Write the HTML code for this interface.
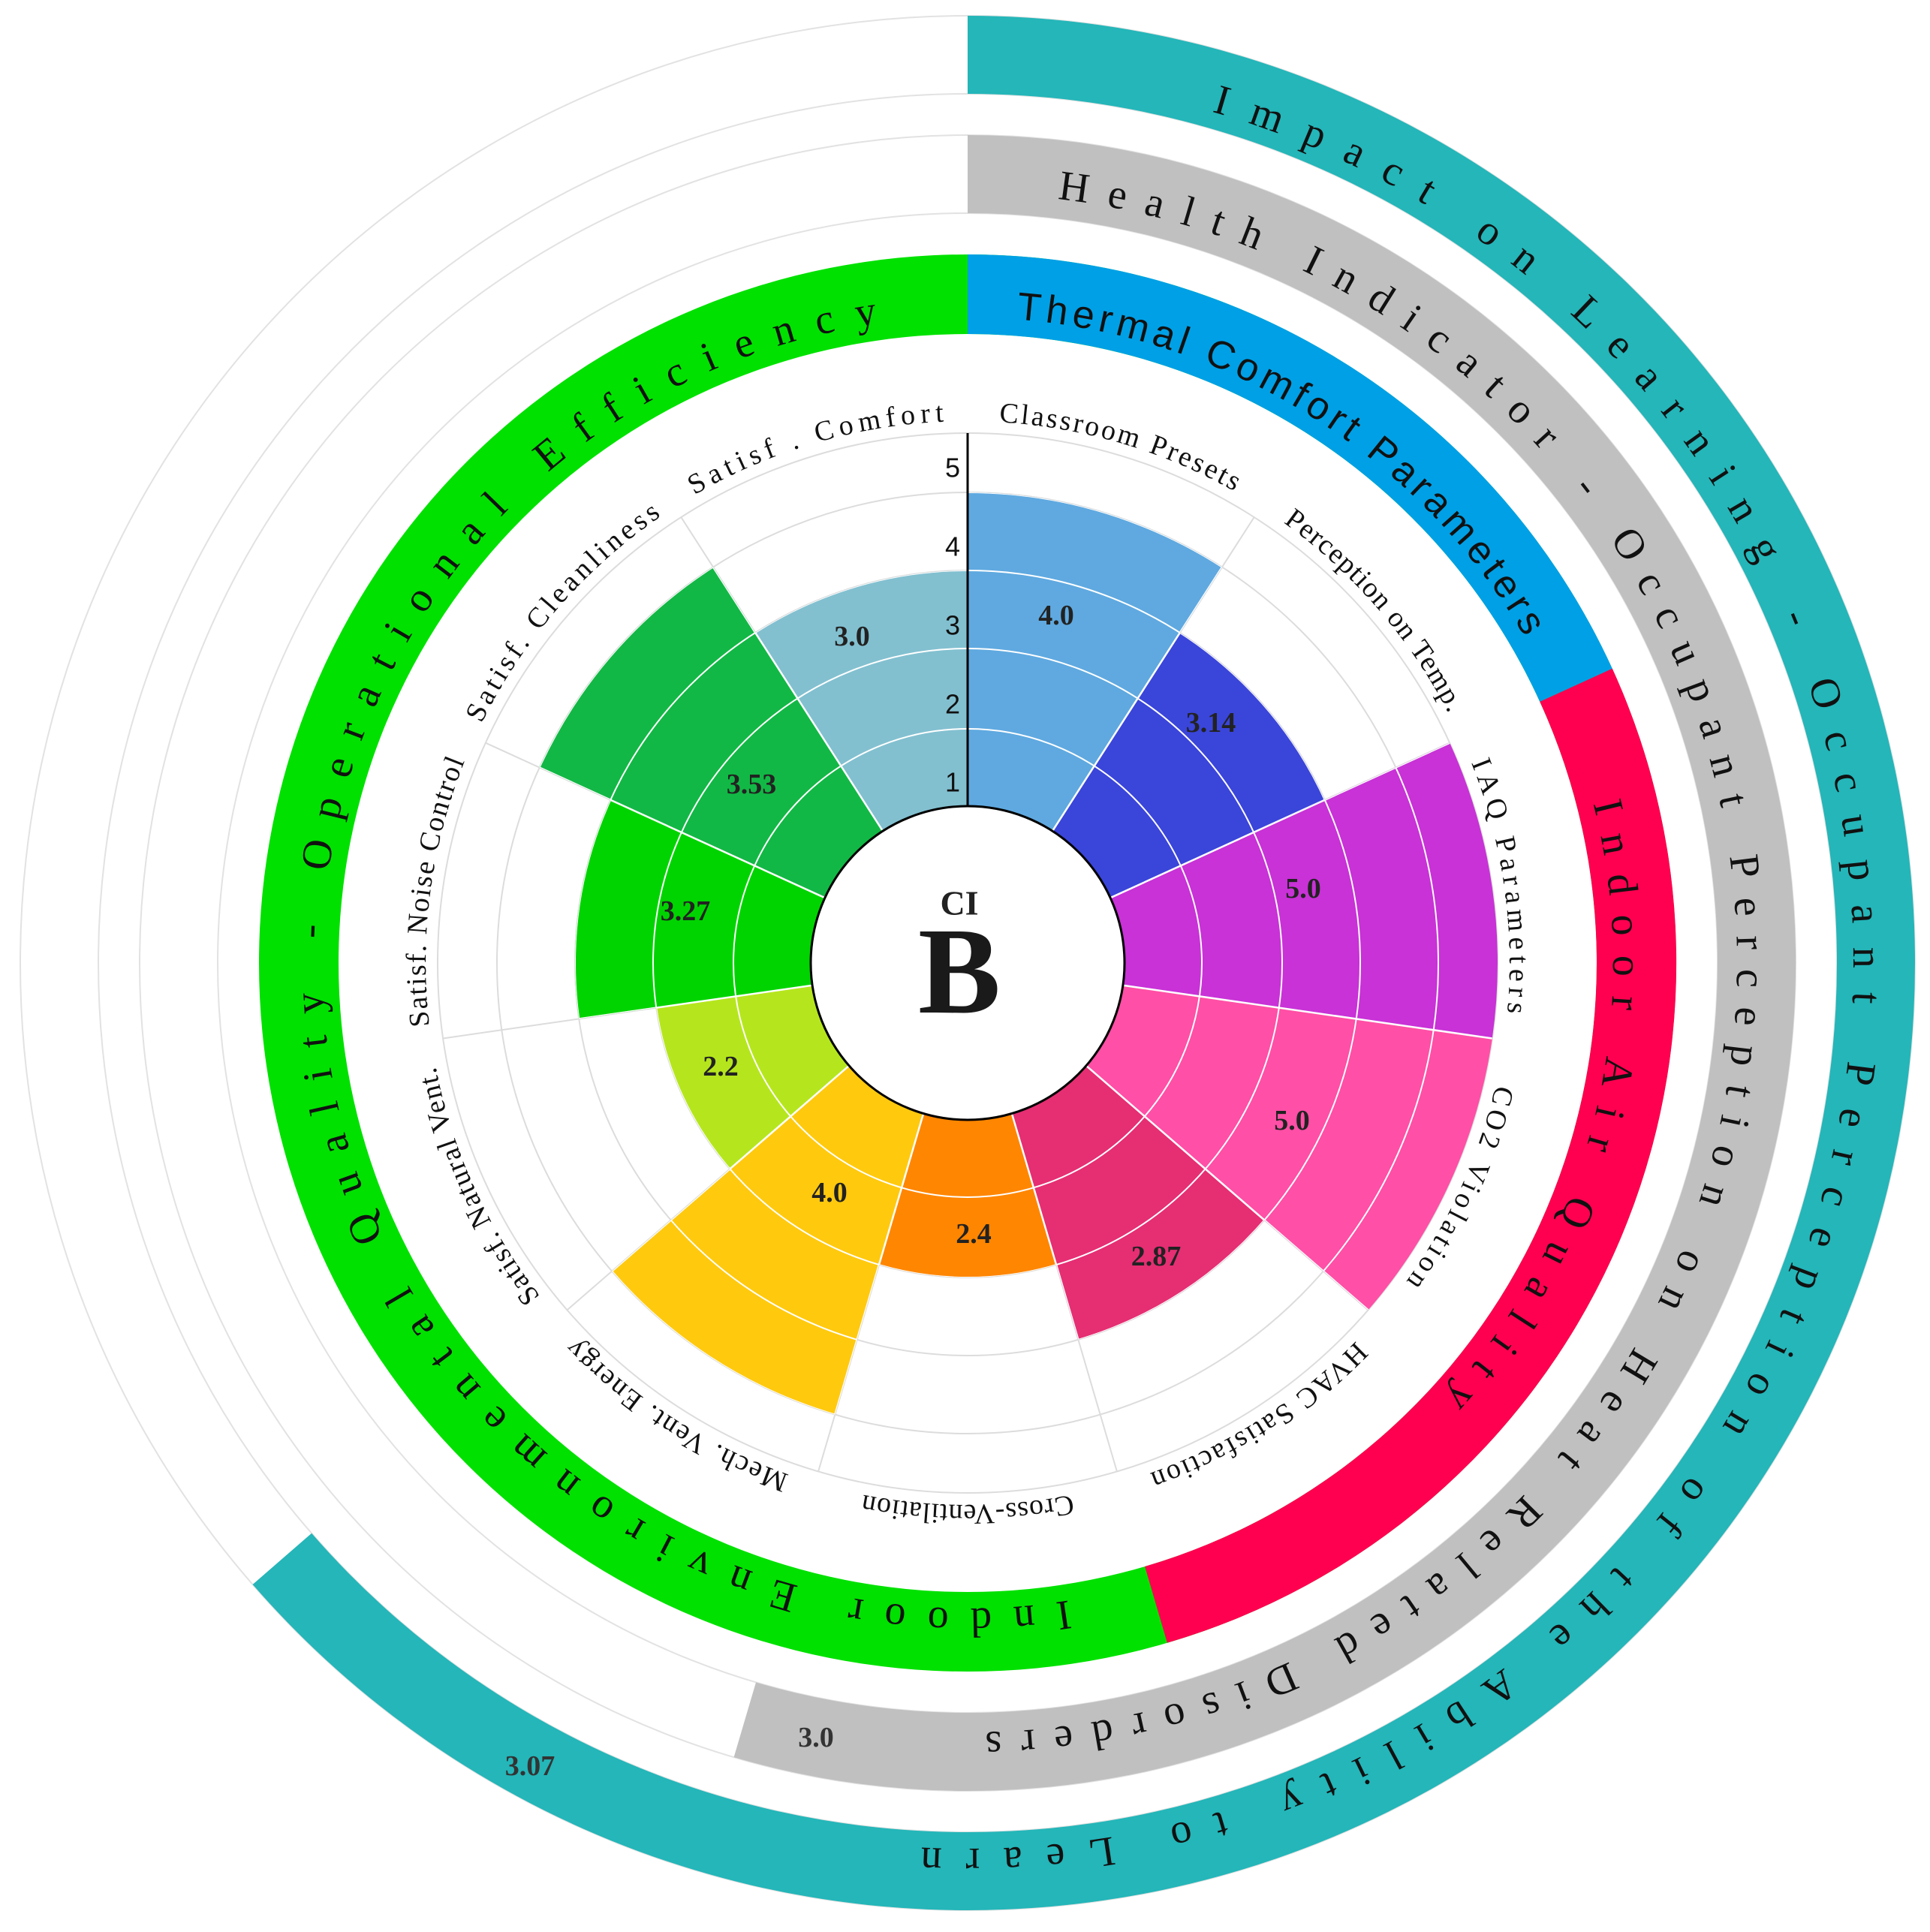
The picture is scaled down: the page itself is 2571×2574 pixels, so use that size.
<!DOCTYPE html>
<html><head><meta charset="utf-8"><style>
html,body{margin:0;padding:0;background:#fff;}
svg{display:block;}
.lab{font-family:"Liberation Serif",serif;font-size:38px;fill:#111;}
.band{font-family:"Liberation Serif",serif;font-size:56px;fill:#111;}
.val{font-family:"Liberation Serif",serif;font-weight:bold;font-size:38px;fill:#222;text-anchor:middle;dominant-baseline:central;}
</style></head><body>
<svg width="2571" height="2574" viewBox="0 0 2571 2574" xmlns="http://www.w3.org/2000/svg">
<defs>
  <path id="c722" d="M0,722 A722,722 0 1 1 0,-722 A722,722 0 1 1 0,722"/>
  <path id="c860" d="M0,860 A860,860 0 1 1 0,-860 A860,860 0 1 1 0,860"/>
  <path id="c1025" d="M0,1025 A1025,1025 0 1 1 0,-1025 A1025,1025 0 1 1 0,1025"/>
  <path id="c1180" d="M0,1180 A1180,1180 0 1 1 0,-1180 A1180,1180 0 1 1 0,1180"/>
  <path id="b627" d="M0,-209 L0,-627 A627,627 0 0 1 339.0,-527.5 L113.0,-175.8 A209,209 0 0 0 0,-209Z"/>
  <path id="b523" d="M0,-209 L0,-523 A523,523 0 0 1 282.7,-440.0 L113.0,-175.8 A209,209 0 0 0 0,-209Z"/>
  <path id="b706" d="M0,-209 L0,-706 A706,706 0 0 1 381.7,-593.9 L113.0,-175.8 A209,209 0 0 0 0,-209Z"/>
  <path id="b419" d="M0,-209 L0,-419 A419,419 0 0 1 226.5,-352.5 L113.0,-175.8 A209,209 0 0 0 0,-209Z"/>
  <clipPath id="bars">
    <use href="#b627"/>
    <use href="#b523" transform="rotate(32.727)"/>
    <use href="#b706" transform="rotate(65.455)"/>
    <use href="#b706" transform="rotate(98.182)"/>
    <use href="#b523" transform="rotate(130.909)"/>
    <use href="#b419" transform="rotate(163.636)"/>
    <use href="#b627" transform="rotate(196.364)"/>
    <use href="#b419" transform="rotate(229.091)"/>
    <use href="#b523" transform="rotate(261.818)"/>
    <use href="#b627" transform="rotate(294.545)"/>
    <use href="#b523" transform="rotate(327.273)"/>
  </clipPath>
</defs>
<g transform="translate(1289,1283)">
  <g fill="none" stroke="#e2e2e2" stroke-width="2">
    <circle r="1262"/><circle r="1158"/><circle r="1103"/><circle r="999"/>
  </g>
  <path d="M0,-1262 A1262,1262 0 1 1 -952.4,828.0 L-873.9,759.8 A1158,1158 0 1 0 0,-1158Z" fill="#24B6B9"/>
  <path d="M0,-1103 A1103,1103 0 1 1 -311.4,1058.1 L-282.0,958.4 A999,999 0 1 0 0,-999Z" fill="#C0C0C0"/>
  <path d="M0,-944 A944,944 0 1 1 0,944 A944,944 0 1 1 0,-944Z M0,-838 A838,838 0 1 0 0,838 A838,838 0 1 0 0,-838Z" fill="#00E100" fill-rule="evenodd"/>
  <path d="M0,-944 A944,944 0 0 1 858.8,-392.2 L762.3,-348.1 A838,838 0 0 0 0,-838Z" fill="#00A0E6"/>
  <path d="M858.8,-392.2 A944,944 0 0 1 265.9,905.8 L236.1,804.0 A838,838 0 0 0 762.3,-348.1Z" fill="#FF0050"/>

  <g fill="none" stroke="#dcdcdc" stroke-width="2">
    <circle r="312"/><circle r="419"/><circle r="523"/><circle r="627"/><circle r="706"/>
  </g>
  <g stroke="#dcdcdc" stroke-width="2">
    <line x1="0" y1="-209" x2="0" y2="-706" transform="rotate(32.727)"/>
    <line x1="0" y1="-209" x2="0" y2="-706" transform="rotate(65.455)"/>
    <line x1="0" y1="-209" x2="0" y2="-706" transform="rotate(98.182)"/>
    <line x1="0" y1="-209" x2="0" y2="-706" transform="rotate(130.909)"/>
    <line x1="0" y1="-209" x2="0" y2="-706" transform="rotate(163.636)"/>
    <line x1="0" y1="-209" x2="0" y2="-706" transform="rotate(196.364)"/>
    <line x1="0" y1="-209" x2="0" y2="-706" transform="rotate(229.091)"/>
    <line x1="0" y1="-209" x2="0" y2="-706" transform="rotate(261.818)"/>
    <line x1="0" y1="-209" x2="0" y2="-706" transform="rotate(294.545)"/>
    <line x1="0" y1="-209" x2="0" y2="-706" transform="rotate(327.273)"/>
  </g>

  <use href="#b627" fill="#5FA9E0"/>
  <use href="#b523" fill="#3A45DA" transform="rotate(32.727)"/>
  <use href="#b706" fill="#C832D6" transform="rotate(65.455)"/>
  <use href="#b706" fill="#FF4FA6" transform="rotate(98.182)"/>
  <use href="#b523" fill="#E62E73" transform="rotate(130.909)"/>
  <use href="#b419" fill="#FF8600" transform="rotate(163.636)"/>
  <use href="#b627" fill="#FFC90E" transform="rotate(196.364)"/>
  <use href="#b419" fill="#B5E61D" transform="rotate(229.091)"/>
  <use href="#b523" fill="#00D400" transform="rotate(261.818)"/>
  <use href="#b627" fill="#12B845" transform="rotate(294.545)"/>
  <use href="#b523" fill="#82C0D0" transform="rotate(327.273)"/>

  <g clip-path="url(#bars)">
    <g fill="none" stroke="#ffffff" stroke-width="2">
      <circle r="312"/><circle r="419"/><circle r="523"/><circle r="627"/>
    </g>
    <g stroke="#ffffff" stroke-width="2.5">
      <line x1="0" y1="-209" x2="0" y2="-706" transform="rotate(32.727)"/>
      <line x1="0" y1="-209" x2="0" y2="-706" transform="rotate(65.455)"/>
      <line x1="0" y1="-209" x2="0" y2="-706" transform="rotate(98.182)"/>
      <line x1="0" y1="-209" x2="0" y2="-706" transform="rotate(130.909)"/>
      <line x1="0" y1="-209" x2="0" y2="-706" transform="rotate(163.636)"/>
      <line x1="0" y1="-209" x2="0" y2="-706" transform="rotate(196.364)"/>
      <line x1="0" y1="-209" x2="0" y2="-706" transform="rotate(229.091)"/>
      <line x1="0" y1="-209" x2="0" y2="-706" transform="rotate(261.818)"/>
      <line x1="0" y1="-209" x2="0" y2="-706" transform="rotate(294.545)"/>
      <line x1="0" y1="-209" x2="0" y2="-706" transform="rotate(327.273)"/>
    </g>
  </g>

  <line x1="0" y1="-209" x2="0" y2="-706" stroke="#000" stroke-width="3"/>
  <g font-family="Liberation Sans, sans-serif" font-size="36" fill="#111" text-anchor="end" dominant-baseline="central">
    <text x="-10" y="-241">1</text>
    <text x="-10" y="-345">2</text>
    <text x="-10" y="-450">3</text>
    <text x="-10" y="-555">4</text>
    <text x="-10" y="-660">5</text>
  </g>

  <circle r="209" fill="#fff" stroke="#000" stroke-width="3"/>
  <text x="-11" y="-80" font-family="Liberation Serif, serif" font-weight="bold" font-size="46" fill="#222" text-anchor="middle" dominant-baseline="central">CI</text>
  <text x="-11" y="66" font-family="Liberation Serif, serif" font-weight="bold" font-size="165" fill="#1a1a1a" text-anchor="middle">B</text>

  <g class="lab">
    <text transform="rotate(16.4)"><textPath href="#c722" startOffset="50%" text-anchor="middle" textLength="330" lengthAdjust="spacing">Classroom Presets</textPath></text>
    <text transform="rotate(49.1)"><textPath href="#c722" startOffset="50%" text-anchor="middle" textLength="340" lengthAdjust="spacing">Perception on Temp.</textPath></text>
    <text transform="rotate(81.8)"><textPath href="#c722" startOffset="50%" text-anchor="middle" textLength="340" lengthAdjust="spacing">IAQ Parameters</textPath></text>
    <text transform="rotate(114.5)"><textPath href="#c722" startOffset="50%" text-anchor="middle" textLength="290" lengthAdjust="spacing">CO2 Violation</textPath></text>
    <text transform="rotate(147.3)"><textPath href="#c722" startOffset="50%" text-anchor="middle" textLength="330" lengthAdjust="spacing">HVAC Satisfaction</textPath></text>
    <text transform="rotate(180)"><textPath href="#c722" startOffset="50%" text-anchor="middle" textLength="280" lengthAdjust="spacing">Cross-Ventilation</textPath></text>
    <text transform="rotate(212.7)"><textPath href="#c722" startOffset="50%" text-anchor="middle" textLength="340" lengthAdjust="spacing">Mech. Vent. Energy</textPath></text>
    <text transform="rotate(245.5)"><textPath href="#c722" startOffset="50%" text-anchor="middle" textLength="340" lengthAdjust="spacing">Satisf. Natural Vent.</textPath></text>
    <text transform="rotate(277.6)"><textPath href="#c722" startOffset="50%" text-anchor="middle" textLength="360" lengthAdjust="spacing">Satisf. Noise Control</textPath></text>
    <text transform="rotate(310.9)"><textPath href="#c722" startOffset="50%" text-anchor="middle" textLength="370" lengthAdjust="spacing">Satisf. Cleanliness</textPath></text>
    <text transform="rotate(343.6)"><textPath href="#c722" startOffset="50%" text-anchor="middle" textLength="350" lengthAdjust="spacing">Satisf . Comfort</textPath></text>
  </g>

  <text class="band" transform="rotate(99.5)"><textPath href="#c1180" startOffset="50%" text-anchor="middle" textLength="3439" lengthAdjust="spacing">Impact on Learning - Occupant Perception of the Ability to Learn</textPath></text>
  <text class="band" transform="rotate(92.7)"><textPath href="#c1025" startOffset="50%" text-anchor="middle" textLength="3077" lengthAdjust="spacing">Health Indicator - Occupant Perception on Heat Related Disorders</textPath></text>
  <text class="band" transform="rotate(261.5)"><textPath href="#c860" startOffset="50%" text-anchor="middle" textLength="2717" lengthAdjust="spacing">Indoor Environmental Quality - Operational Efficiency</textPath></text>
  <text class="band" transform="rotate(104)"><textPath href="#c860" startOffset="50%" text-anchor="middle" textLength="850" lengthAdjust="spacing">Indoor Air Quality</textPath></text>
  <text transform="rotate(32)" font-family="Liberation Sans, sans-serif" font-size="52" fill="#111"><textPath href="#c860" startOffset="50%" text-anchor="middle" textLength="831" lengthAdjust="spacing">Thermal Comfort Parameters</textPath></text>
</g>

<g class="val">
  <text x="1407" y="820">4.0</text>
  <text x="1613" y="963">3.14</text>
  <text x="1736" y="1184">5.0</text>
  <text x="1721" y="1493">5.0</text>
  <text x="1540" y="1674">2.87</text>
  <text x="1297" y="1644">2.4</text>
  <text x="1105" y="1589">4.0</text>
  <text x="960" y="1421">2.2</text>
  <text x="913" y="1214">3.27</text>
  <text x="1001" y="1045">3.53</text>
  <text x="1135" y="848">3.0</text>
  <text x="1087" y="2315" fill="#333">3.0</text>
  <text x="706" y="2353" fill="#333">3.07</text>
</g>
</svg>
</body></html>
